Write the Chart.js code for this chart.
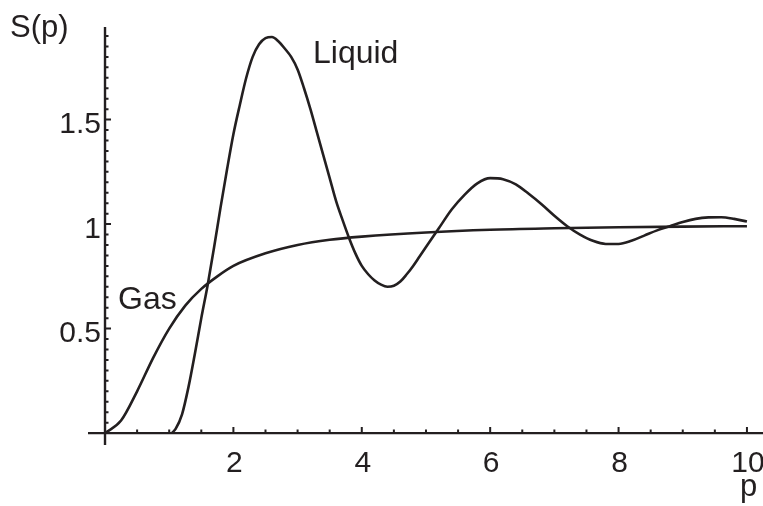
<!DOCTYPE html>
<html>
<head>
<meta charset="utf-8">
<script src="https://cdn.jsdelivr.net/npm/chart.js@4.4.1/dist/chart.umd.min.js"></script>
<style>
  html, body { margin: 0; padding: 0; background: #ffffff; }
  #contenedor { width: 763px; height: 506px; position: relative; }
</style>
</head>
<body>
<div id="contenedor"><canvas id="grafico"></canvas></div>
<script>
// Datos: S(p) para gas y líquido
const gasP = [0, 0.25, 0.5, 0.75, 1, 1.25, 1.5, 1.75, 2, 2.5, 3, 3.5, 4, 5, 6, 7, 8, 9, 10];
const gasS = [0, 0.06, 0.2, 0.36, 0.5, 0.61, 0.69, 0.75, 0.8, 0.86, 0.9, 0.925, 0.94, 0.96, 0.973, 0.98, 0.985, 0.988, 0.99];

const liquidoP = [1.04, 1.1, 1.2, 1.3, 1.4, 1.5, 1.6, 1.7, 1.8, 1.9, 2.0, 2.1, 2.2, 2.3, 2.4, 2.5, 2.6, 2.7, 2.8, 2.9, 3.0,
    3.1, 3.2, 3.3, 3.4, 3.5, 3.6, 3.7, 3.8, 3.9, 4.0, 4.1, 4.2, 4.3, 4.4, 4.5, 4.6, 4.7, 4.8, 4.9, 5.0,
    5.2, 5.4, 5.6, 5.8, 6.0, 6.2, 6.4, 6.6, 6.8, 7.0,
    7.2, 7.4, 7.6, 7.8, 8.0, 8.2, 8.4, 8.6, 8.8, 9.0, 9.2, 9.4, 9.6, 9.8, 10.0];
const liquidoS = [0, 0.02, 0.09, 0.22, 0.38, 0.55, 0.71, 0.89, 1.08, 1.26, 1.43, 1.57, 1.7, 1.8, 1.86, 1.89, 1.895, 1.875, 1.84, 1.8, 1.74,
    1.65, 1.55, 1.44, 1.33, 1.22, 1.11, 1.02, 0.935, 0.86, 0.8, 0.76, 0.73, 0.71, 0.7, 0.705, 0.725, 0.76, 0.8, 0.845, 0.89,
    0.98, 1.07, 1.14, 1.195, 1.22, 1.215, 1.19, 1.145, 1.095, 1.04,
    0.99, 0.95, 0.92, 0.905, 0.905, 0.92, 0.945, 0.97, 0.99, 1.01, 1.025, 1.032, 1.033, 1.025, 1.012];

// Marcas de los ejes
const ticksX = [2, 4, 6, 8, 10];
const ticksY = [0.5, 1, 1.5];
const etiquetasY = ['0.5', '1', '1.5'];

const negro = '#231f20';
const fuente = '"Liberation Sans", Arial, sans-serif';

// Convertir arrays en puntos {x, y}
function puntos(xs, ys) {
    return xs.map((x, i) => ({ x: x, y: ys[i] }));
}

// Plugin que dibuja los ejes cruzando en el origen, marcas y textos
const ejesOrigen = {
    id: 'ejesOrigen',
    afterDatasetsDraw(chart) {
        const ctx = chart.ctx;
        const sx = chart.scales.x;
        const sy = chart.scales.y;
        const x0 = sx.getPixelForValue(0);
        const y0 = sy.getPixelForValue(0);

        ctx.save();
        ctx.strokeStyle = negro;
        ctx.fillStyle = negro;
        ctx.lineCap = 'butt';

        // líneas de los ejes
        ctx.lineWidth = 2.4;
        ctx.beginPath();
        ctx.moveTo(sx.left, y0);
        ctx.lineTo(sx.right, y0);
        ctx.moveTo(x0, sy.top);
        ctx.lineTo(x0, sy.bottom);
        ctx.stroke();

        // marcas en x (cada 0.5, mayores cada 2)
        ctx.lineWidth = 2;
        ctx.beginPath();
        for (let k = 1; k * 0.5 <= sx.max; k++) {
            const v = k * 0.5;
            const px = sx.getPixelForValue(v);
            const largo = (k % 4 === 0) ? 6 : 3.5;
            ctx.moveTo(px, y0);
            ctx.lineTo(px, y0 - largo);
        }
        // marcas en y (cada 0.05, mayores cada 0.5)
        for (let k = 1; k * 0.05 <= sy.max; k++) {
            const py = sy.getPixelForValue(k * 0.05);
            const largo = (k % 10 === 0) ? 6 : 3.5;
            ctx.moveTo(x0, py);
            ctx.lineTo(x0 + largo, py);
        }
        ctx.stroke();

        // etiquetas de las marcas
        ctx.font = '30px ' + fuente;
        ctx.textBaseline = 'alphabetic';
        ctx.textAlign = 'center';
        ticksX.forEach(v => {
            ctx.fillText(String(v), sx.getPixelForValue(v) + 1, y0 + 39);
        });
        ctx.textAlign = 'right';
        ticksY.forEach((v, i) => {
            ctx.fillText(etiquetasY[i], x0 - 4, sy.getPixelForValue(v) + 13.5);
        });

        // títulos de ejes y nombres de curvas
        ctx.textAlign = 'left';
        ctx.font = '31px ' + fuente;
        ctx.fillText('S(p)', 10, 37);
        ctx.fillText('p', 740, 496);
        ctx.font = '32px ' + fuente;
        ctx.fillText('Gas', 118, 309);
        ctx.fillText('Liquid', 313, 63);
        ctx.restore();
    }
};

new Chart(document.getElementById('grafico'), {
    type: 'line',
    data: {
        datasets: [{
            label: 'Gas',
            data: puntos(gasP, gasS),
            borderColor: negro,
            borderWidth: 2.6,
            pointRadius: 0,
            fill: false,
            cubicInterpolationMode: 'monotone'
        }, {
            label: 'Liquid',
            data: puntos(liquidoP, liquidoS),
            borderColor: negro,
            borderWidth: 2.6,
            pointRadius: 0,
            fill: false,
            cubicInterpolationMode: 'monotone'
        }]
    },
    options: {
        responsive: true,
        maintainAspectRatio: false,
        animation: false,
        layout: { padding: { left: 88, right: 0, top: 27, bottom: 61 } },
        scales: {
            x: { type: 'linear', min: -0.265, max: 10.25, display: false },
            y: { type: 'linear', min: -0.057, max: 1.943, display: false }
        },
        plugins: {
            legend: { display: false },
            tooltip: { enabled: false }
        }
    },
    plugins: [ejesOrigen]
});
</script>
</body>
</html>
